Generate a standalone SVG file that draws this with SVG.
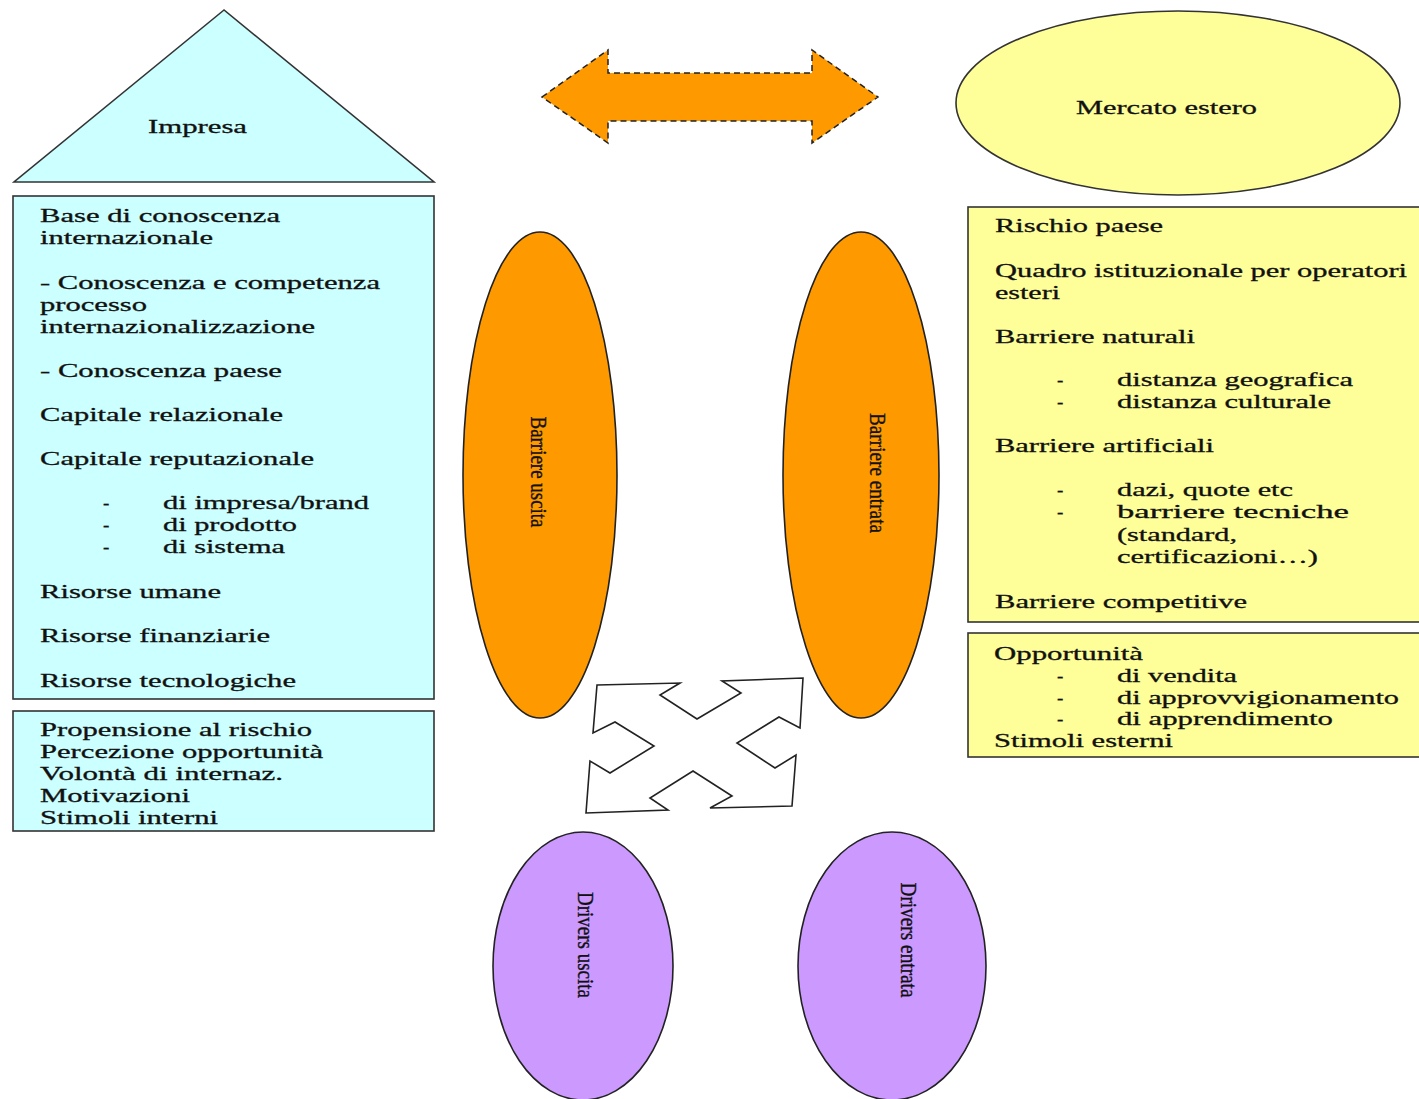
<svg xmlns="http://www.w3.org/2000/svg" width="1419" height="1099" viewBox="0 0 1419 1099">
<style>
.t{font-family:"Liberation Serif","Times New Roman",serif;font-size:19px;fill:#111;stroke:#111;stroke-width:0.3;}
.v{font-family:"Liberation Serif","Times New Roman",serif;font-size:23px;fill:#111;stroke:#111;stroke-width:0.35;text-anchor:middle;}
.cy{fill:#ccffff;stroke:#333;stroke-width:1.6;}
.ye{fill:#ffff99;stroke:#333;stroke-width:1.6;}
.or{fill:#ff9900;stroke:#222;stroke-width:1.6;}
.pu{fill:#cc99ff;stroke:#222;stroke-width:1.6;}
</style>
<rect width="1419" height="1099" fill="#fff"/>

<g id="impresa">
<polygon class="cy" points="224,10 14,182 434,182"/>
<text class="t" x="148" y="133" textLength="99" lengthAdjust="spacingAndGlyphs">Impresa</text>
</g>

<g id="risorse">
<rect class="cy" x="13" y="196" width="421" height="503"/>
<text class="t" x="40" y="222" textLength="240" lengthAdjust="spacingAndGlyphs">Base di conoscenza</text>
<text class="t" x="40" y="244" textLength="173" lengthAdjust="spacingAndGlyphs">internazionale</text>
<text class="t" x="40" y="289" textLength="340" lengthAdjust="spacingAndGlyphs">- Conoscenza e competenza</text>
<text class="t" x="40" y="311" textLength="107" lengthAdjust="spacingAndGlyphs">processo</text>
<text class="t" x="40" y="333" textLength="275" lengthAdjust="spacingAndGlyphs">internazionalizzazione</text>
<text class="t" x="40" y="377" textLength="242" lengthAdjust="spacingAndGlyphs">- Conoscenza paese</text>
<text class="t" x="40" y="421" textLength="243" lengthAdjust="spacingAndGlyphs">Capitale relazionale</text>
<text class="t" x="40" y="465" textLength="274" lengthAdjust="spacingAndGlyphs">Capitale reputazionale</text>
<text class="t" x="103" y="509">-</text>
<text class="t" x="163" y="509" textLength="206" lengthAdjust="spacingAndGlyphs">di impresa/brand</text>
<text class="t" x="103" y="531">-</text>
<text class="t" x="163" y="531" textLength="134" lengthAdjust="spacingAndGlyphs">di prodotto</text>
<text class="t" x="103" y="553">-</text>
<text class="t" x="163" y="553" textLength="122" lengthAdjust="spacingAndGlyphs">di sistema</text>
<text class="t" x="40" y="598" textLength="181" lengthAdjust="spacingAndGlyphs">Risorse umane</text>
<text class="t" x="40" y="642" textLength="230" lengthAdjust="spacingAndGlyphs">Risorse finanziarie</text>
<text class="t" x="40" y="687" textLength="256" lengthAdjust="spacingAndGlyphs">Risorse tecnologiche</text>
</g>

<g id="stimoli-interni">
<rect class="cy" x="13" y="711" width="421" height="120"/>
<text class="t" x="40" y="736" textLength="272" lengthAdjust="spacingAndGlyphs">Propensione al rischio</text>
<text class="t" x="40" y="758" textLength="283" lengthAdjust="spacingAndGlyphs">Percezione opportunità</text>
<text class="t" x="40" y="780" textLength="243" lengthAdjust="spacingAndGlyphs">Volontà di internaz.</text>
<text class="t" x="40" y="802" textLength="150" lengthAdjust="spacingAndGlyphs">Motivazioni</text>
<text class="t" x="40" y="824" textLength="178" lengthAdjust="spacingAndGlyphs">Stimoli interni</text>
</g>

<g id="mercato">
<ellipse class="ye" cx="1178" cy="103" rx="222" ry="92"/>
<text class="t" x="1076" y="114" textLength="181" lengthAdjust="spacingAndGlyphs">Mercato estero</text>
</g>

<g id="barriere-mercato">
<rect class="ye" x="968" y="207" width="470" height="415"/>
<text class="t" x="995" y="232" textLength="168" lengthAdjust="spacingAndGlyphs">Rischio paese</text>
<text class="t" x="995" y="277" textLength="412" lengthAdjust="spacingAndGlyphs">Quadro istituzionale per operatori</text>
<text class="t" x="995" y="299" textLength="65" lengthAdjust="spacingAndGlyphs">esteri</text>
<text class="t" x="995" y="343" textLength="200" lengthAdjust="spacingAndGlyphs">Barriere naturali</text>
<text class="t" x="1057" y="386">-</text>
<text class="t" x="1117" y="386" textLength="236" lengthAdjust="spacingAndGlyphs">distanza geografica</text>
<text class="t" x="1057" y="408">-</text>
<text class="t" x="1117" y="408" textLength="214" lengthAdjust="spacingAndGlyphs">distanza culturale</text>
<text class="t" x="995" y="452" textLength="219" lengthAdjust="spacingAndGlyphs">Barriere artificiali</text>
<text class="t" x="1057" y="496">-</text>
<text class="t" x="1117" y="496" textLength="176" lengthAdjust="spacingAndGlyphs">dazi, quote etc</text>
<text class="t" x="1057" y="518">-</text>
<text class="t" x="1117" y="518" textLength="232" lengthAdjust="spacingAndGlyphs">barriere tecniche</text>
<text class="t" x="1117" y="541" textLength="120" lengthAdjust="spacingAndGlyphs">(standard,</text>
<text class="t" x="1117" y="563" textLength="201" lengthAdjust="spacingAndGlyphs">certificazioni…)</text>
<text class="t" x="995" y="608" textLength="252" lengthAdjust="spacingAndGlyphs">Barriere competitive</text>
</g>

<g id="stimoli-esterni">
<rect class="ye" x="968" y="633" width="470" height="124"/>
<text class="t" x="994" y="660" textLength="149" lengthAdjust="spacingAndGlyphs">Opportunità</text>
<text class="t" x="1057" y="682">-</text>
<text class="t" x="1117" y="682" textLength="120" lengthAdjust="spacingAndGlyphs">di vendita</text>
<text class="t" x="1057" y="704">-</text>
<text class="t" x="1117" y="704" textLength="282" lengthAdjust="spacingAndGlyphs">di approvvigionamento</text>
<text class="t" x="1057" y="725">-</text>
<text class="t" x="1117" y="725" textLength="216" lengthAdjust="spacingAndGlyphs">di apprendimento</text>
<text class="t" x="994" y="747" textLength="179" lengthAdjust="spacingAndGlyphs">Stimoli esterni</text>
</g>

<g id="barriere-uscita">
<ellipse class="or" cx="540" cy="475" rx="77" ry="243"/>
<text class="v" transform="translate(531,472) rotate(90)" x="0" y="0" textLength="111" lengthAdjust="spacingAndGlyphs">Barriere uscita</text>
</g>

<g id="barriere-entrata">
<ellipse class="or" cx="861" cy="475" rx="78" ry="243"/>
<text class="v" transform="translate(870,473) rotate(90)" x="0" y="0" textLength="120" lengthAdjust="spacingAndGlyphs">Barriere entrata</text>
</g>

<g id="drivers-uscita">
<ellipse class="pu" cx="583" cy="966" rx="90" ry="134"/>
<text class="v" transform="translate(578,945) rotate(90)" x="0" y="0" textLength="106" lengthAdjust="spacingAndGlyphs">Drivers uscita</text>
</g>

<g id="drivers-entrata">
<ellipse class="pu" cx="892" cy="966" rx="94" ry="134"/>
<text class="v" transform="translate(901,940) rotate(90)" x="0" y="0" textLength="115" lengthAdjust="spacingAndGlyphs">Drivers entrata</text>
</g>

<g id="connectors">
<polygon fill="#ff9900" stroke="#222" stroke-width="1.5" stroke-dasharray="6 4" points="542,97 608,50 608,73 812,73 812,50 878,97 812,143 812,121 608,121 608,143"/>
<polygon fill="#fff" stroke="#222" stroke-width="1.6" stroke-linejoin="miter" points="597,685 680,683 660,695 697,719 741,693 722,681 803,678 800,728 779,717 737,743 775,768 796,755 792,806 710,808 732,796 693,771 650,798 668,810 586,813 590,761 610,773 654,746 615,722 593,733"/>
</g>
</svg>
